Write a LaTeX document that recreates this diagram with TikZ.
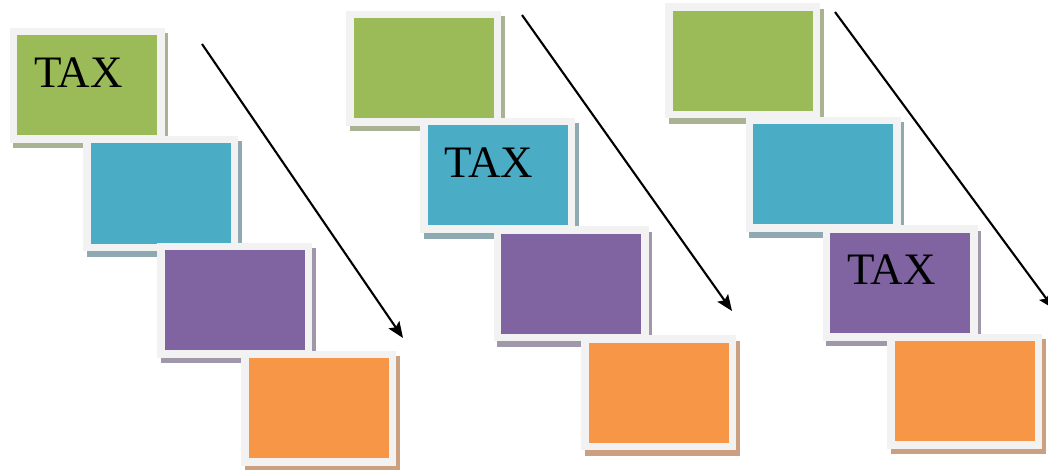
\documentclass[tikz,border=0pt]{standalone}
\usepackage{fontspec}
\setmainfont{Liberation Serif}
\usetikzlibrary{arrows.meta, calc, shadows}

\definecolor{tgreen}{HTML}{9BBB59}
\definecolor{tblue}{HTML}{4BACC6}
\definecolor{tpurple}{HTML}{8064A2}
\definecolor{torange}{HTML}{F79646}
\definecolor{tgreenshd}{HTML}{A9B292}
\definecolor{tblueshd}{HTML}{8FA9B2}
\definecolor{tpurpleshd}{HTML}{A097AB}
\definecolor{torangeshd}{HTML}{CC9F80}
\definecolor{framegray}{HTML}{F2F2F2}

\begin{document}
\begin{tikzpicture}[
  x=1pt, y=-1pt,
  tile/.style={rectangle, minimum width=147.5pt, minimum height=107.5pt, inner sep=0pt,
               line width=7.5pt, draw=framegray, fill=#1,
               general shadow={draw=#1shd, fill=#1shd, line width=7.5pt,
                               shadow xshift=3.5pt, shadow yshift=-5.5pt}},
  taxlbl/.style={font=\fontsize{45}{52}\selectfont, text=black, inner sep=0pt},
  arr/.style={-{Stealth[length=16pt, width=13pt, inset=3pt]}, line width=2.1pt, color=black},
]
\useasboundingbox (0,0) rectangle (1048,470);

% Cascade 1
\node[tile=tgreen]  (g1) at (87,85.5) {};
\node[tile=tblue]   (b1) at (160.5,193.5) {};
\node[tile=tpurple] (p1) at (234.5,300) {};
\node[tile=torange] (o1) at (318.5,408) {};
\node[taxlbl] (tax1) at ($(g1)+(-8.5,-13)$) {TAX};

% Cascade 2
\node[tile=tgreen]  (g2) at (423.5,68.5) {};
\node[tile=tblue]   (b2) at (497.5,175.5) {};
\node[tile=tpurple] (p2) at (571,283.5) {};
\node[tile=torange] (o2) at (658.5,392.5) {};
\node[taxlbl] (tax2) at ($(b2)+(-8.5,-13)$) {TAX};

% Cascade 3
\node[tile=tgreen]  (g3) at (742.5,61) {};
\node[tile=tblue]   (b3) at (823,174.5) {};
\node[tile=tpurple] (p3) at (900,283) {};
\node[tile=torange] (o3) at (964.5,391) {};
\node[taxlbl] (tax3) at ($(p3)+(-8.5,-13)$) {TAX};

% Arrows
\coordinate (s1) at (202,44);
\coordinate (e1) at (403,338);
\coordinate (s2) at (522,15);
\coordinate (e2) at (732,311);
\coordinate (s3) at (835,12);
\coordinate (e3) at (1054,309);
\draw[arr] (s1) -- (e1);
\draw[arr] (s2) -- (e2);
\draw[arr] (s3) -- (e3);

\end{tikzpicture}
\end{document}
